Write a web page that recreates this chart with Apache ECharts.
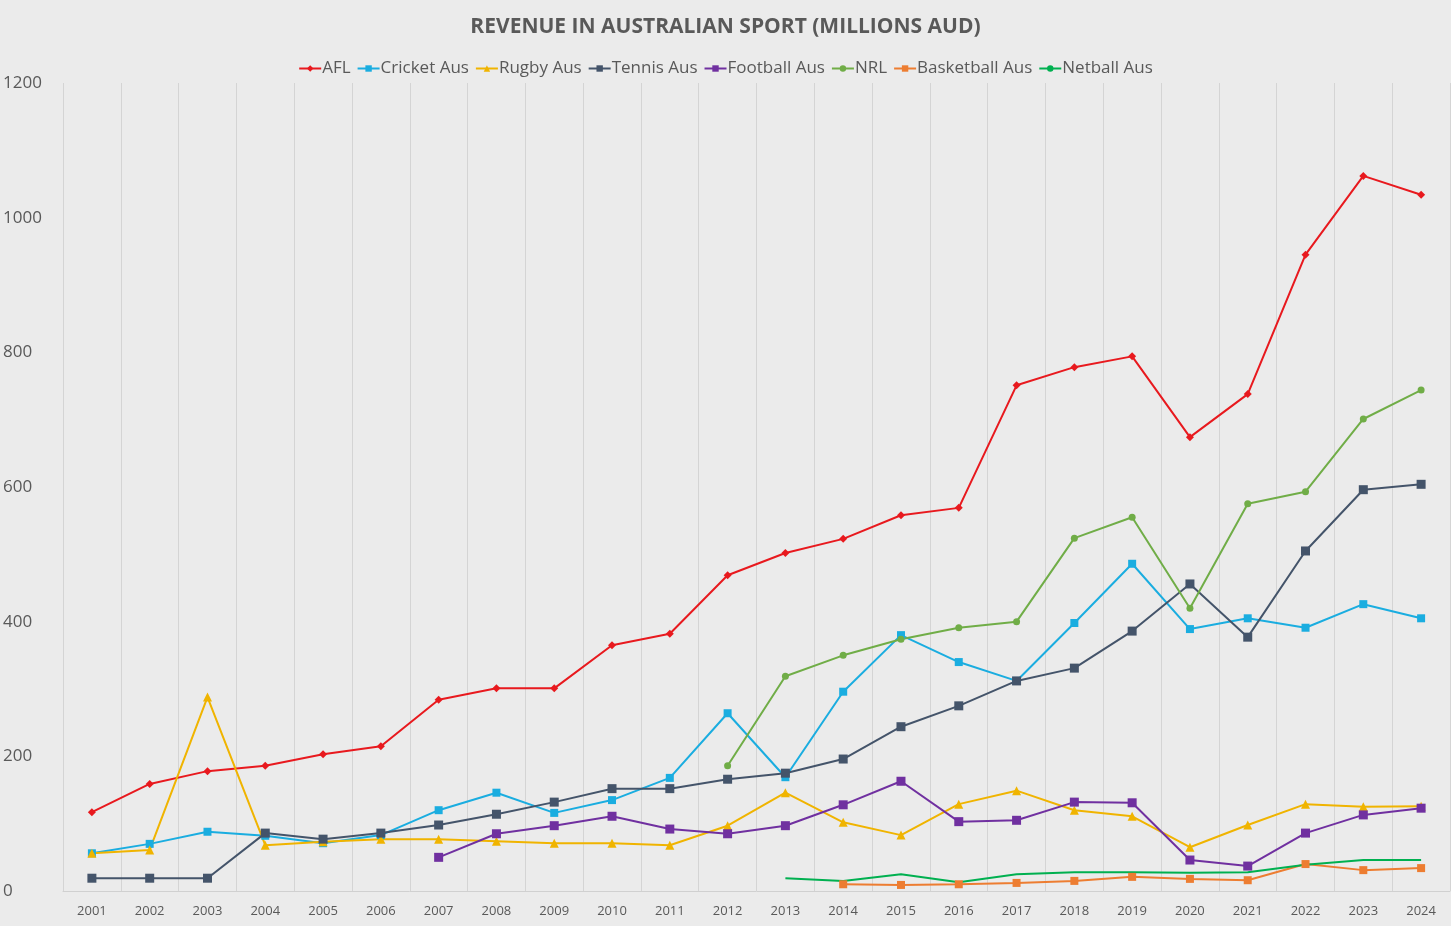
<!DOCTYPE html>
<html>
<head>
<meta charset="utf-8">
<script src="https://cdn.jsdelivr.net/npm/echarts@6/dist/echarts.min.js"></script>
<style>
  html, body { margin: 0; padding: 0; background: #ebebeb; }
  #chart { width: 1451px; height: 926px; }
</style>
</head>
<body>
<div id="chart"></div>
<script>
// 数据
const years = ['2001','2002','2003','2004','2005','2006','2007','2008','2009','2010','2011','2012',
  '2013','2014','2015','2016','2017','2018','2019','2020','2021','2022','2023','2024'];
const afl = [117,159,178,186,203,215,284,301,301,365,382,469,502,523,558,569,751,778,794,674,738,945,1062,1034];
const cricket = [56,70,88,82,71,83,120,146,116,135,168,264,169,296,380,340,312,398,486,389,405,391,426,405];
const rugby = [56,61,288,68,73,77,77,74,71,71,68,97,146,102,83,129,149,120,111,65,98,129,125,126];
const tennis = [19,19,19,86,77,86,98,114,132,152,152,166,175,196,244,275,312,331,386,456,377,505,596,604];
const football = [null,null,null,null,null,null,50,85,97,111,92,85,97,128,163,103,105,132,131,46,37,86,113,123];
const nrl = [null,null,null,null,null,null,null,null,null,null,null,186,319,350,374,391,400,524,555,420,575,593,701,744];
const basketball = [null,null,null,null,null,null,null,null,null,null,null,null,null,10,9,10,12,15,21,18,16,40,31,34];
const netball = [null,null,null,null,null,null,null,null,null,null,null,null,19,15,25,13,25,28,28,27,28,39,46,46];

const chart = echarts.init(document.getElementById('chart'));

const mk = (name, data, color, symbol, size) => ({
  name, type: 'line', data, symbol, symbolSize: size,
  itemStyle: { color }, lineStyle: { color, width: 2 }
});

chart.setOption({
  backgroundColor: '#ebebeb',
  title: {
    text: 'REVENUE IN AUSTRALIAN SPORT (MILLIONS AUD)',
    left: 'center', top: 12,
    textStyle: { fontFamily: 'Open Sans', fontSize: 21, fontWeight: 'bold', color: '#595959' }
  },
  legend: {
    top: 55, left: 'center', itemWidth: 22, itemHeight: 8, itemGap: 6,
    textStyle: { fontFamily: 'Open Sans', fontSize: 17, color: '#595959', padding: [0, 6, 0, -4] }
  },
  grid: { left: 62, right: 1, top: 83, bottom: 35 },
  xAxis: {
    type: 'category', data: years, boundaryGap: true,
    axisLine: { lineStyle: { color: '#d0d0d0' } },
    axisTick: { show: false },
    axisLabel: { fontFamily: 'Open Sans', fontSize: 13, color: '#595959', margin: 14 },
    splitLine: { show: true, lineStyle: { color: '#d4d4d4' } }
  },
  yAxis: {
    type: 'value', min: 0, max: 1200, interval: 200,
    axisLabel: { fontFamily: 'Open Sans', fontSize: 17, color: '#595959', align: 'left', margin: 60,
      formatter: v => String(v) },
    splitLine: { show: false },
    axisLine: { show: false }
  },
  series: [
    mk('AFL', afl, '#e8191e', 'diamond', 8),
    mk('Cricket Aus', cricket, '#1aade0', 'rect', 8),
    mk('Rugby Aus', rugby, '#f0b400', 'triangle', 9),
    mk('Tennis Aus', tennis, '#44546a', 'rect', 9),
    mk('Football Aus', football, '#7030a0', 'rect', 9),
    mk('NRL', nrl, '#70ad47', 'circle', 7),
    mk('Basketball Aus', basketball, '#ed7d31', 'rect', 8),
    mk('Netball Aus', netball, '#00b050', 'none', 4)
  ]
});
</script>
</body>
</html>
